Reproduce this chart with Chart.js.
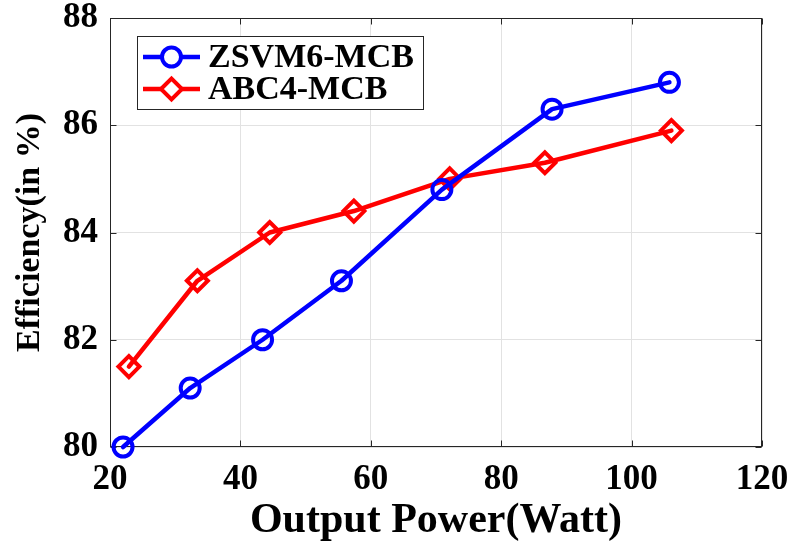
<!DOCTYPE html>
<html>
<head>
<meta charset="utf-8">
<script src="https://cdn.jsdelivr.net/npm/chart.js@4/dist/chart.umd.min.js"></script>
<style>
html,body{margin:0;padding:0;background:#fff;}
#wrap{width:793px;height:542px;}
canvas{display:block;}
</style>
</head>
<body>
<div id="wrap"><canvas id="c" width="793" height="542"></canvas></div>
<script>
// ---- data ----
const seriesNames = ['ZSVM6-MCB', 'ABC4-MCB'];
const powerZSVM = [22.0, 32.3, 43.4, 55.5, 70.9, 87.8, 105.8];
const effZSVM   = [80.0, 81.1, 82.0, 83.1, 84.8, 86.3, 86.8];
const powerABC  = [22.9, 33.4, 44.5, 57.4, 72.1, 86.7, 106.1];
const effABC    = [81.5, 83.1, 84.0, 84.4, 85.0, 85.3, 85.9];
const xTicks = [20, 40, 60, 80, 100, 120];
const yTicks = [80, 82, 84, 86, 88];
const xTitle = 'Output Power(Watt)';
const yTitle = 'Efficiency(in %)';

const FONT = '"Liberation Serif", "Times New Roman", serif';

function pts(xs, ys) { return xs.map((x, i) => ({x: x, y: ys[i]})); }
function noPad(s) { s.paddingLeft = 0; s.paddingRight = 0; s.paddingTop = 0; s.paddingBottom = 0; }

const axesBox = {
  id: 'axesBox',
  beforeDatasetsDraw(chart) {
    const {ctx, chartArea: a, scales: {x, y}} = chart;
    ctx.save();
    ctx.strokeStyle = '#262626';
    ctx.lineWidth = 1;
    const L = Math.round(a.left) + 0.5, R = Math.round(a.right) - 0.5;
    const T = Math.round(a.top) + 0.5, B = Math.round(a.bottom) - 0.5;
    ctx.beginPath();
    xTicks.forEach(v => {
      const px = Math.round(x.getPixelForValue(v)) + 0.5;
      ctx.moveTo(px, B); ctx.lineTo(px, B - 6);
      ctx.moveTo(px, T); ctx.lineTo(px, T + 6);
    });
    yTicks.forEach(v => {
      const py = Math.round(y.getPixelForValue(v)) + 0.5;
      ctx.moveTo(L, py); ctx.lineTo(L + 6, py);
      ctx.moveTo(R, py); ctx.lineTo(R - 6, py);
    });
    ctx.stroke();
    ctx.strokeRect(L, T, R - L, B - T);
    ctx.restore();
  }
};

const boxLegend = {
  id: 'boxLegend',
  afterDraw(chart) {
    const {ctx, chartArea: a} = chart;
    ctx.save();
    ctx.font = 'bold 34px ' + FONT;
    const left = Math.round(a.left) + 27, top = Math.round(a.top) + 18;
    const textOff = 71;
    const widths = chart.data.datasets.map(d => ctx.measureText(d.label).width);
    const w = Math.round(textOff + Math.max(...widths) + 9);
    const h = 73, rowH = 32;
    ctx.fillStyle = '#fff';
    ctx.fillRect(left, top, w, h);
    ctx.strokeStyle = '#262626';
    ctx.lineWidth = 1;
    ctx.strokeRect(left + 0.5, top + 0.5, w, h);
    chart.data.datasets.forEach((d, i) => {
      const cy = top + 21 + i * rowH;
      ctx.strokeStyle = d.borderColor;
      ctx.lineWidth = d.borderWidth;
      ctx.beginPath();
      ctx.moveTo(left + 6, cy); ctx.lineTo(left + 63, cy);
      ctx.stroke();
      const mx = left + 34.5, r = d.pointRadius;
      ctx.lineWidth = d.pointBorderWidth;
      ctx.beginPath();
      if (d.pointStyle === 'circle') {
        ctx.arc(mx, cy, r, 0, Math.PI * 2);
      } else {
        ctx.moveTo(mx - r, cy); ctx.lineTo(mx, cy - r); ctx.lineTo(mx + r, cy); ctx.lineTo(mx, cy + r); ctx.closePath();
      }
      ctx.fillStyle = '#fff';
      ctx.fill();
      ctx.stroke();
      ctx.fillStyle = '#000';
      ctx.textAlign = 'left';
      ctx.textBaseline = 'middle';
      ctx.fillText(d.label, left + textOff, cy + 1);
    });
    ctx.restore();
  }
};

new Chart(document.getElementById('c'), {
  type: 'line',
  data: {
    datasets: [
      {
        label: seriesNames[0],
        data: pts(powerZSVM, effZSVM),
        borderColor: '#0000ff',
        backgroundColor: '#0000ff',
        borderWidth: 4.5,
        pointStyle: 'circle',
        pointRadius: 9.5,
        pointBorderWidth: 4,
        pointBackgroundColor: 'rgba(0,0,0,0)',
        pointBorderColor: '#0000ff',
        tension: 0,
        clip: false
      },
      {
        label: seriesNames[1],
        data: pts(powerABC, effABC),
        borderColor: '#ff0000',
        backgroundColor: '#ff0000',
        borderWidth: 4.5,
        pointStyle: 'rectRot',
        pointRadius: 10.5,
        pointBorderWidth: 4,
        pointBackgroundColor: 'rgba(0,0,0,0)',
        pointBorderColor: '#ff0000',
        tension: 0,
        clip: false
      }
    ]
  },
  options: {
    responsive: false,
    animation: false,
    devicePixelRatio: 1,
    layout: {padding: {top: 18, right: 31, left: 0, bottom: 0}},
    plugins: {legend: {display: false}, tooltip: {enabled: false}},
    elements: {line: {borderJoinStyle: 'round', borderCapStyle: 'round'}},
    scales: {
      x: {
        type: 'linear',
        min: 20, max: 120,
        afterBuildTicks: s => { s.ticks = xTicks.map(v => ({value: v})); },
        afterFit: s => { s.height = 95; noPad(s); },
        grid: {color: '#e2e2e2', lineWidth: 1, drawTicks: false},
        border: {display: false},
        ticks: {color: '#000', padding: 15, maxRotation: 0, autoSkip: false,
                font: {family: FONT, size: 35, weight: 'bold', lineHeight: 1}},
        title: {display: true, text: xTitle, color: '#000',
                font: {family: FONT, size: 42, weight: 'bold', lineHeight: 1},
                padding: {top: 0, bottom: 0}}
      },
      y: {
        type: 'linear',
        min: 80, max: 88,
        afterBuildTicks: s => { s.ticks = yTicks.map(v => ({value: v})); },
        afterFit: s => { s.width = 110; noPad(s); },
        grid: {color: '#e2e2e2', lineWidth: 1, drawTicks: false},
        border: {display: false},
        ticks: {color: '#000', padding: 12, autoSkip: false,
                font: {family: FONT, size: 35, weight: 'bold', lineHeight: 1}},
        title: {display: true, text: yTitle, color: '#000',
                font: {family: FONT, size: 34, weight: 'bold', lineHeight: 1},
                padding: {top: 13, bottom: 0}}
      }
    }
  },
  plugins: [axesBox, boxLegend]
});
</script>
</body>
</html>
